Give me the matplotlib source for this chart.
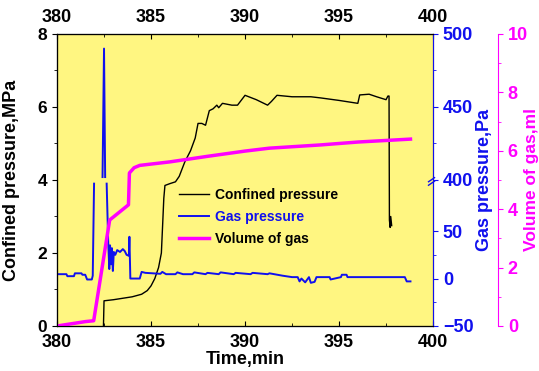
import numpy as np
import matplotlib
matplotlib.use('Agg')
import matplotlib.pyplot as plt
from matplotlib.ticker import MultipleLocator

plt.rcParams['font.family'] = ['Liberation Sans', 'DejaVu Sans']
plt.rcParams['font.weight'] = 'bold'
plt.rcParams['axes.labelweight'] = 'bold'

# confined pressure (MPa)
t_conf = [382.47, 382.5, 383.0, 383.5, 384.0, 384.5, 384.8, 385.0, 385.2, 385.4,
          385.55, 385.62, 385.68, 385.74, 386.0, 386.3, 386.5, 386.8, 387.1, 387.35,
          387.5, 387.7, 387.9, 388.1, 388.3, 388.5, 388.6, 388.8, 389.3, 389.6,
          390.0, 390.6, 391.2, 391.4, 391.7, 392.5, 393.5, 394.0, 395.0, 396.0,
          396.1, 396.6, 397.0, 397.5, 397.6, 397.66, 397.68, 397.72, 397.75, 397.8]
p_conf = [0.0, 0.69, 0.72, 0.76, 0.80, 0.87, 0.97, 1.1, 1.3, 1.6,
          2.0, 2.8, 3.5, 3.85, 3.9, 3.95, 4.1, 4.5, 4.8, 5.15,
          5.55, 5.55, 5.5, 5.9, 5.95, 6.05, 5.98, 6.1, 6.05, 6.05,
          6.32, 6.2, 6.05, 6.15, 6.32, 6.28, 6.28, 6.25, 6.18, 6.1,
          6.33, 6.35, 6.28, 6.2, 6.3, 6.3, 2.9, 2.7, 3.0, 2.75]

# gas pressure (Pa), nan = off the broken axis
t_gas = [380.0, 380.5, 380.55, 380.9, 380.95, 381.3, 381.35, 381.5, 381.6, 381.85,
         381.9, 381.97, 381.98, 382.42, 382.5, 382.56, 382.6, 382.64, 382.72, 382.78,
         382.82, 382.87, 382.92, 382.97, 383.02, 383.1, 383.2, 383.35, 383.5, 383.6,
         383.7, 383.82, 383.85, 383.9, 384.4, 384.5, 384.7, 385.5, 385.6, 385.8,
         386.3, 386.4, 386.7, 387.2, 387.3, 387.9, 388.0, 388.6, 388.7, 389.4,
         389.5, 390.3, 390.4, 391.2, 391.3, 392.0, 392.5, 392.8, 392.9, 393.0,
         393.2, 393.4, 393.5, 393.7, 393.8, 393.9, 394.5, 394.55, 395.1, 395.15,
         395.4, 395.45, 398.5, 398.6, 398.8]
p_gas = [4.6, 4.6, 2.5, 2.5, 5.5, 5.5, 4.0, 4.0, -1.0, -1.0,
         3.0, 100.0, np.nan, 402.0, 490.0, 402.0, np.nan, 100.0, 40.0, 10.0,
         35.0, 15.0, 32.0, 8.0, 28.0, 25.0, 30.0, 28.0, 31.0, 29.0,
         25.0, 24.0, 44.0, 0.0, 0.0, 7.0, 6.0, 5.0, 7.0, 4.6,
         4.6, 6.5, 4.6, 4.6, 6.5, 4.6, 6.0, 4.6, 6.5, 4.6,
         6.0, 4.6, 6.0, 4.6, 5.5, 3.0, 1.5, 1.5, -3.0, 0.0,
         -4.0, 1.5, -4.5, -3.5, 1.5, 1.5, 1.5, -1.0, 1.5, 4.0,
         4.0, 1.5, 1.5, -3.0, -3.0]

# volume of gas (ml)
t_vol = [380.0, 380.8, 381.5, 381.95, 382.8, 383.8, 383.85, 384.1, 384.4, 386.0,
         388.0, 390.0, 391.3, 394.0, 396.0, 398.8]
v_vol = [0.0, 0.08, 0.15, 0.18, 3.63, 4.15, 5.24, 5.42, 5.5, 5.62,
         5.81, 5.99, 6.09, 6.2, 6.3, 6.4]

blue = '#1010ee'
pink = '#ff00ff'


def fwd(p):
    p = np.asarray(p, dtype=float)
    return np.where(p <= 100, (p + 50) * 0.026,
                    np.where(p < 400, 3.9 + (p - 100) * 0.1 / 300, 4 + (p - 400) * 0.04))


def inv(y):
    y = np.asarray(y, dtype=float)
    return np.where(y <= 3.9, y / 0.026 - 50,
                    np.where(y < 4, 100 + (y - 3.9) * 3000, 400 + (y - 4) / 0.04))


fig = plt.figure(figsize=(5.39, 3.71), dpi=100)
ax = fig.add_axes([0.1058, 0.1213, 0.6976, 0.7871])
ax.set_facecolor('#fff681')

l1, = ax.plot(t_conf, p_conf, color='black', lw=1.0, label='Confined pressure')
ax.set_xlim(380, 400)
ax.set_ylim(0, 8)
ax.set_xticks([380, 385, 390, 395, 400])
ax.xaxis.set_minor_locator(MultipleLocator(2.5))
ax.yaxis.set_major_locator(MultipleLocator(2))
ax.yaxis.set_minor_locator(MultipleLocator(1))
ax.tick_params(axis='x', which='both', direction='in', top=True, labeltop=True, labelsize=13, pad=6)
ax.tick_params(axis='y', which='both', direction='out', labelsize=12.5)
ax.set_xlabel('Time,min', fontsize=13, labelpad=0)
ax.set_ylabel('Confined pressure,MPa', fontsize=13)
ax.yaxis.set_label_coords(-0.098, 0.5)

# gas pressure axis with break
axb = ax.twinx()
axb.set_yscale('function', functions=(fwd, inv))
axb.set_ylim(-50, 500)
l2, = axb.plot(t_gas, p_gas, color=blue, lw=1.4, label='Gas pressure')
axb.set_yticks([-50, 0, 50, 400, 450, 500])
axb.set_yticks([-25, 25, 425, 475], minor=True)
axb.tick_params(axis='y', which='both', colors=blue, labelsize=13)
for lab in axb.get_yticklabels():
    lab.set_color(blue)
axb.spines['right'].set_color(blue)
axb.set_ylabel('Gas pressure,Pa', fontsize=13, color=blue)
axb.yaxis.set_label_coords(1.115, 0.5)
for dy in (0.0, 0.012):
    axb.plot([0.988, 1.004], [0.482 + dy, 0.496 + dy], transform=axb.transAxes,
             color=blue, lw=1.0, clip_on=False)

# volume axis
axv = ax.twinx()
axv.spines['right'].set_position(('axes', 1.173))
axv.spines['right'].set_color(pink)
l3, = axv.plot(t_vol, v_vol, color=pink, lw=2.5, label='Volume of gas')
axv.set_ylim(0, 10)
axv.yaxis.set_major_locator(MultipleLocator(2))
axv.yaxis.set_minor_locator(MultipleLocator(1))
axv.tick_params(axis='y', which='both', colors=pink, labelsize=13)
axv.set_ylabel('Volume of gas,ml', fontsize=12.5, color=pink)
axv.yaxis.set_label_coords(1.242, 0.5)

leg = axv.legend(handles=[l1, l2, l3], loc='upper left', bbox_to_anchor=(0.29, 0.517),
                 frameon=False, fontsize=10, handlelength=2.2, labelspacing=0.6,
                 handletextpad=0.4)
for txt, c in zip(leg.get_texts(), ['black', blue, 'black']):
    txt.set_color(c)

fig.savefig('out.png', dpi=100)
